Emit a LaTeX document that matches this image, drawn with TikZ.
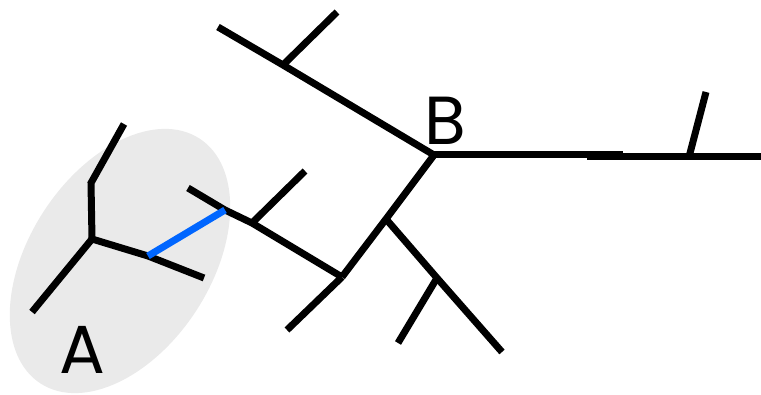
\documentclass[tikz,border=0pt]{standalone}
\usepackage{fontspec}
\setmainfont{Poppins}
\begin{document}
\begin{tikzpicture}[x=1pt,y=-1pt,
  edge/.style={line width=7pt,line cap=butt,black},
  hilite/.style={edge,draw=hiblue},
  lbl/.style={font=\fontsize{68}{68}\selectfont,inner sep=0pt,text=black}]
\definecolor{hiblue}{HTML}{0066FF}
\definecolor{cloud}{HTML}{EAEAEA}
\useasboundingbox (0,0) rectangle (761,395);

% shaded region around subtree A, trimmed at the lower edge
\coordinate (ctr) at (120,261);
\begin{scope}
  \clip (0,0) rectangle (761,395);
  \fill[cloud,rotate around={57:(ctr)}] (ctr) ellipse [x radius=146pt,y radius=91pt];
\end{scope}

% subtree A
\coordinate (a0) at (124,124);
\coordinate (a1) at (91,183);
\coordinate (a2) at (92,239);
\coordinate (a3) at (32,312);
\coordinate (a4) at (148,256);
\coordinate (a5) at (204,278);

% middle part
\coordinate (m0) at (188,188);
\coordinate (m1) at (225,210);
\coordinate (m2) at (252,223);
\coordinate (m3) at (305,171);
\coordinate (m4) at (342,277);
\coordinate (m5) at (287,330);
\coordinate (m6) at (386,219);
\coordinate (m7) at (437,278);
\coordinate (m8) at (502,352);
\coordinate (m9) at (398,343);

% hub B and its branches
\coordinate (b) at (434,155);
\coordinate (u0) at (218,27);
\coordinate (u1) at (283,65);
\coordinate (u2) at (337,12);
\coordinate (r0) at (623,155);
\coordinate (r1) at (587,157);
\coordinate (r2) at (761,157);
\coordinate (r3) at (689,157);
\coordinate (r4) at (706,92);

\draw[edge] (a0) -- (a1) -- (a2);
\draw[edge] (a2) -- (a3);
\draw[edge] (a2) -- (a4) -- (a5);

\draw[edge] (m0) -- (m1) -- (m2) -- (m4);
\draw[edge] (m2) -- (m3);
\draw[edge] (m4) -- (m5);
\draw[edge] (m4) -- (m6) -- (b);
\draw[edge] (m6) -- (m7) -- (m8);
\draw[edge] (m7) -- (m9);

\draw[edge] (u0) -- (u1) -- (b);
\draw[edge] (u1) -- (u2);
\draw[edge] (b) -- (r0);
\draw[edge] (r1) -- (r2);
\draw[edge] (r3) -- (r4);

% highlighted connecting edge
\draw[hilite] (a4) -- (m1);

\node[lbl] (lA) at (82,350) {A};
\node[lbl] (lB) at (445,121) {B};
\end{tikzpicture}
\end{document}
